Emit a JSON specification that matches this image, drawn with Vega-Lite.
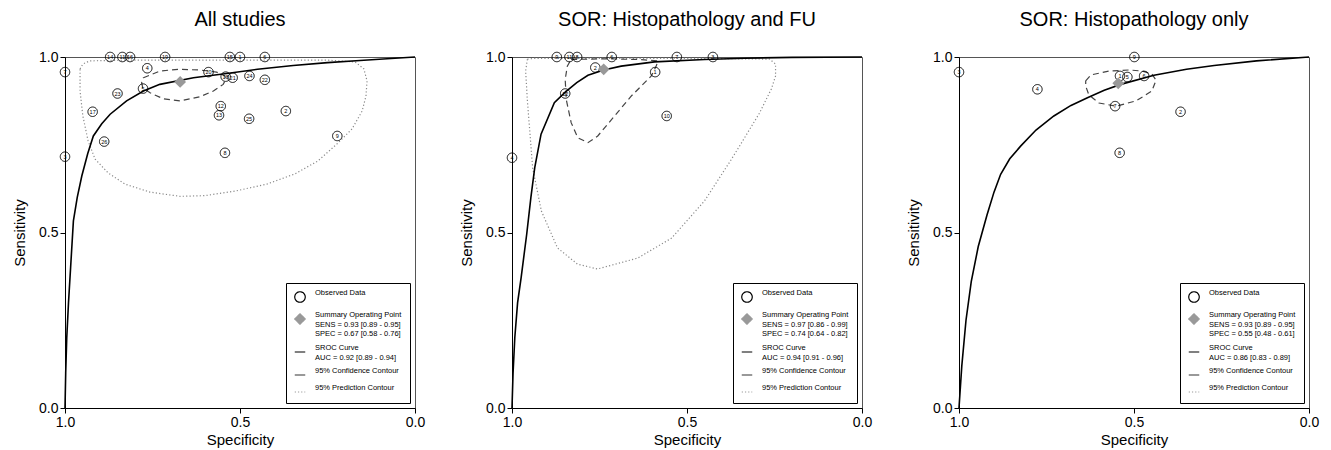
{
  "$schema": "https://vega.github.io/schema/vega-lite/v6.json",
  "padding": {"left": 12, "right": 5, "top": 9, "bottom": 0},
  "background": "white",
  "spacing": 33,
  "datasets": {
    "pts": [
      {"panel": 1, "id": "14", "spec": 0.871, "sens": 1.0},
      {"panel": 1, "id": "11", "spec": 0.836, "sens": 1.0},
      {"panel": 1, "id": "16", "spec": 0.814, "sens": 1.0},
      {"panel": 1, "id": "19", "spec": 0.714, "sens": 1.0},
      {"panel": 1, "id": "15", "spec": 0.529, "sens": 1.0},
      {"panel": 1, "id": "1", "spec": 0.500, "sens": 1.0},
      {"panel": 1, "id": "6", "spec": 0.429, "sens": 1.0},
      {"panel": 1, "id": "7", "spec": 1.0, "sens": 0.957},
      {"panel": 1, "id": "4", "spec": 0.765, "sens": 0.968},
      {"panel": 1, "id": "20", "spec": 0.590, "sens": 0.957},
      {"panel": 1, "id": "18", "spec": 0.541, "sens": 0.944},
      {"panel": 1, "id": "21", "spec": 0.521, "sens": 0.941},
      {"panel": 1, "id": "24", "spec": 0.473, "sens": 0.946},
      {"panel": 1, "id": "22", "spec": 0.429, "sens": 0.935},
      {"panel": 1, "id": "5", "spec": 0.777, "sens": 0.910},
      {"panel": 1, "id": "23", "spec": 0.850, "sens": 0.896},
      {"panel": 1, "id": "17", "spec": 0.921, "sens": 0.844},
      {"panel": 1, "id": "12", "spec": 0.555, "sens": 0.860},
      {"panel": 1, "id": "13", "spec": 0.560, "sens": 0.834},
      {"panel": 1, "id": "25", "spec": 0.474, "sens": 0.824},
      {"panel": 1, "id": "2", "spec": 0.369, "sens": 0.846},
      {"panel": 1, "id": "9", "spec": 0.222, "sens": 0.775},
      {"panel": 1, "id": "26", "spec": 0.888, "sens": 0.759},
      {"panel": 1, "id": "8", "spec": 0.543, "sens": 0.727},
      {"panel": 1, "id": "3", "spec": 1.0, "sens": 0.716},
      {"panel": 2, "id": "9", "spec": 0.872, "sens": 1.0},
      {"panel": 2, "id": "11", "spec": 0.836, "sens": 1.0},
      {"panel": 2, "id": "8", "spec": 0.814, "sens": 1.0},
      {"panel": 2, "id": "6", "spec": 0.715, "sens": 1.0},
      {"panel": 2, "id": "7", "spec": 0.529, "sens": 1.0},
      {"panel": 2, "id": "3", "spec": 0.426, "sens": 1.0},
      {"panel": 2, "id": "2", "spec": 0.762, "sens": 0.970},
      {"panel": 2, "id": "1", "spec": 0.591, "sens": 0.957},
      {"panel": 2, "id": "12", "spec": 0.848, "sens": 0.896},
      {"panel": 2, "id": "10", "spec": 0.558, "sens": 0.832},
      {"panel": 2, "id": "4", "spec": 1.0, "sens": 0.713},
      {"panel": 3, "id": "9", "spec": 0.499, "sens": 1.0},
      {"panel": 3, "id": "3", "spec": 1.0, "sens": 0.957},
      {"panel": 3, "id": "4", "spec": 0.776, "sens": 0.908},
      {"panel": 3, "id": "1", "spec": 0.540, "sens": 0.946},
      {"panel": 3, "id": "5", "spec": 0.519, "sens": 0.943},
      {"panel": 3, "id": "6", "spec": 0.471, "sens": 0.946},
      {"panel": 3, "id": "7", "spec": 0.554, "sens": 0.860},
      {"panel": 3, "id": "2", "spec": 0.367, "sens": 0.844},
      {"panel": 3, "id": "8", "spec": 0.541, "sens": 0.727}
    ],
    "summary": [
      {"panel": 1, "spec": 0.671, "sens": 0.929},
      {"panel": 2, "spec": 0.738, "sens": 0.965},
      {"panel": 3, "spec": 0.545, "sens": 0.925}
    ],
    "sroc": [
      {"panel": 1, "spec": 1.0, "sens": 0.0},
      {"panel": 1, "spec": 0.998, "sens": 0.1},
      {"panel": 1, "spec": 0.995, "sens": 0.2},
      {"panel": 1, "spec": 0.99, "sens": 0.3},
      {"panel": 1, "spec": 0.984, "sens": 0.4},
      {"panel": 1, "spec": 0.976, "sens": 0.533},
      {"panel": 1, "spec": 0.965, "sens": 0.6},
      {"panel": 1, "spec": 0.952, "sens": 0.661},
      {"panel": 1, "spec": 0.935, "sens": 0.725},
      {"panel": 1, "spec": 0.919, "sens": 0.775},
      {"panel": 1, "spec": 0.895, "sens": 0.81},
      {"panel": 1, "spec": 0.871, "sens": 0.837},
      {"panel": 1, "spec": 0.824, "sens": 0.875},
      {"panel": 1, "spec": 0.776, "sens": 0.903},
      {"panel": 1, "spec": 0.729, "sens": 0.922},
      {"panel": 1, "spec": 0.633, "sens": 0.941},
      {"panel": 1, "spec": 0.538, "sens": 0.953},
      {"panel": 1, "spec": 0.45, "sens": 0.965},
      {"panel": 1, "spec": 0.348, "sens": 0.976},
      {"panel": 1, "spec": 0.25, "sens": 0.984},
      {"panel": 1, "spec": 0.157, "sens": 0.99},
      {"panel": 1, "spec": 0.08, "sens": 0.995},
      {"panel": 1, "spec": 0.0, "sens": 1.0},
      {"panel": 2, "spec": 1.0, "sens": 0.0},
      {"panel": 2, "spec": 0.997, "sens": 0.1},
      {"panel": 2, "spec": 0.992, "sens": 0.2},
      {"panel": 2, "spec": 0.984, "sens": 0.3},
      {"panel": 2, "spec": 0.974, "sens": 0.371},
      {"panel": 2, "spec": 0.958, "sens": 0.495},
      {"panel": 2, "spec": 0.946, "sens": 0.6},
      {"panel": 2, "spec": 0.935, "sens": 0.685},
      {"panel": 2, "spec": 0.917, "sens": 0.78},
      {"panel": 2, "spec": 0.879, "sens": 0.87},
      {"panel": 2, "spec": 0.848, "sens": 0.9},
      {"panel": 2, "spec": 0.815, "sens": 0.927},
      {"panel": 2, "spec": 0.783, "sens": 0.948},
      {"panel": 2, "spec": 0.738, "sens": 0.963},
      {"panel": 2, "spec": 0.688, "sens": 0.974},
      {"panel": 2, "spec": 0.593, "sens": 0.986},
      {"panel": 2, "spec": 0.45, "sens": 0.993},
      {"panel": 2, "spec": 0.336, "sens": 0.9966},
      {"panel": 2, "spec": 0.2, "sens": 0.999},
      {"panel": 2, "spec": 0.0, "sens": 1.0},
      {"panel": 3, "spec": 1.0, "sens": 0.0},
      {"panel": 3, "spec": 0.992, "sens": 0.12},
      {"panel": 3, "spec": 0.98, "sens": 0.25},
      {"panel": 3, "spec": 0.965, "sens": 0.36},
      {"panel": 3, "spec": 0.945, "sens": 0.46},
      {"panel": 3, "spec": 0.92, "sens": 0.55},
      {"panel": 3, "spec": 0.9, "sens": 0.615},
      {"panel": 3, "spec": 0.881, "sens": 0.666},
      {"panel": 3, "spec": 0.855, "sens": 0.71},
      {"panel": 3, "spec": 0.824, "sens": 0.746},
      {"panel": 3, "spec": 0.78, "sens": 0.792},
      {"panel": 3, "spec": 0.729, "sens": 0.832},
      {"panel": 3, "spec": 0.68, "sens": 0.862},
      {"panel": 3, "spec": 0.633, "sens": 0.884},
      {"panel": 3, "spec": 0.585, "sens": 0.905},
      {"panel": 3, "spec": 0.538, "sens": 0.922},
      {"panel": 3, "spec": 0.443, "sens": 0.948},
      {"panel": 3, "spec": 0.35, "sens": 0.965},
      {"panel": 3, "spec": 0.271, "sens": 0.976},
      {"panel": 3, "spec": 0.15, "sens": 0.989},
      {"panel": 3, "spec": 0.0, "sens": 1.0}
    ],
    "conf": [
      {"panel": 1, "o": 1, "spec": 0.776, "sens": 0.941},
      {"panel": 1, "o": 2, "spec": 0.729, "sens": 0.960},
      {"panel": 1, "o": 3, "spec": 0.676, "sens": 0.965},
      {"panel": 1, "o": 4, "spec": 0.614, "sens": 0.963},
      {"panel": 1, "o": 5, "spec": 0.567, "sens": 0.957},
      {"panel": 1, "o": 6, "spec": 0.543, "sens": 0.946},
      {"panel": 1, "o": 7, "spec": 0.541, "sens": 0.936},
      {"panel": 1, "o": 8, "spec": 0.548, "sens": 0.922},
      {"panel": 1, "o": 9, "spec": 0.576, "sens": 0.903},
      {"panel": 1, "o": 10, "spec": 0.614, "sens": 0.887},
      {"panel": 1, "o": 11, "spec": 0.671, "sens": 0.875},
      {"panel": 1, "o": 12, "spec": 0.719, "sens": 0.881},
      {"panel": 1, "o": 13, "spec": 0.757, "sens": 0.898},
      {"panel": 1, "o": 14, "spec": 0.778, "sens": 0.913},
      {"panel": 1, "o": 15, "spec": 0.781, "sens": 0.927},
      {"panel": 1, "o": 16, "spec": 0.776, "sens": 0.941},
      {"panel": 2, "o": 1, "spec": 0.831, "sens": 0.993},
      {"panel": 2, "o": 2, "spec": 0.736, "sens": 0.995},
      {"panel": 2, "o": 3, "spec": 0.641, "sens": 0.993},
      {"panel": 2, "o": 4, "spec": 0.583, "sens": 0.989},
      {"panel": 2, "o": 5, "spec": 0.588, "sens": 0.974},
      {"panel": 2, "o": 6, "spec": 0.602, "sens": 0.946},
      {"panel": 2, "o": 7, "spec": 0.659, "sens": 0.889},
      {"panel": 2, "o": 8, "spec": 0.707, "sens": 0.832},
      {"panel": 2, "o": 9, "spec": 0.755, "sens": 0.775},
      {"panel": 2, "o": 10, "spec": 0.783, "sens": 0.756},
      {"panel": 2, "o": 11, "spec": 0.812, "sens": 0.770},
      {"panel": 2, "o": 12, "spec": 0.831, "sens": 0.813},
      {"panel": 2, "o": 13, "spec": 0.845, "sens": 0.879},
      {"panel": 2, "o": 14, "spec": 0.848, "sens": 0.936},
      {"panel": 2, "o": 15, "spec": 0.842, "sens": 0.974},
      {"panel": 2, "o": 16, "spec": 0.831, "sens": 0.993},
      {"panel": 3, "o": 1, "spec": 0.638, "sens": 0.932},
      {"panel": 3, "o": 2, "spec": 0.623, "sens": 0.949},
      {"panel": 3, "o": 3, "spec": 0.571, "sens": 0.960},
      {"panel": 3, "o": 4, "spec": 0.514, "sens": 0.963},
      {"panel": 3, "o": 5, "spec": 0.477, "sens": 0.960},
      {"panel": 3, "o": 6, "spec": 0.449, "sens": 0.952},
      {"panel": 3, "o": 7, "spec": 0.437, "sens": 0.934},
      {"panel": 3, "o": 8, "spec": 0.449, "sens": 0.903},
      {"panel": 3, "o": 9, "spec": 0.494, "sens": 0.875},
      {"panel": 3, "o": 10, "spec": 0.551, "sens": 0.860},
      {"panel": 3, "o": 11, "spec": 0.600, "sens": 0.869},
      {"panel": 3, "o": 12, "spec": 0.629, "sens": 0.892},
      {"panel": 3, "o": 13, "spec": 0.638, "sens": 0.917},
      {"panel": 3, "o": 14, "spec": 0.638, "sens": 0.932}
    ],
    "pred": [
      {"panel": 1, "o": 1, "spec": 0.957, "sens": 0.966},
      {"panel": 1, "o": 2, "spec": 0.949, "sens": 0.980},
      {"panel": 1, "o": 3, "spec": 0.929, "sens": 0.989},
      {"panel": 1, "o": 4, "spec": 0.823, "sens": 0.991},
      {"panel": 1, "o": 5, "spec": 0.537, "sens": 0.991},
      {"panel": 1, "o": 6, "spec": 0.251, "sens": 0.991},
      {"panel": 1, "o": 7, "spec": 0.171, "sens": 0.986},
      {"panel": 1, "o": 8, "spec": 0.146, "sens": 0.966},
      {"panel": 1, "o": 9, "spec": 0.137, "sens": 0.932},
      {"panel": 1, "o": 10, "spec": 0.140, "sens": 0.889},
      {"panel": 1, "o": 11, "spec": 0.151, "sens": 0.846},
      {"panel": 1, "o": 12, "spec": 0.180, "sens": 0.795},
      {"panel": 1, "o": 13, "spec": 0.220, "sens": 0.755},
      {"panel": 1, "o": 14, "spec": 0.277, "sens": 0.704},
      {"panel": 1, "o": 15, "spec": 0.343, "sens": 0.667},
      {"panel": 1, "o": 16, "spec": 0.423, "sens": 0.638},
      {"panel": 1, "o": 17, "spec": 0.514, "sens": 0.618},
      {"panel": 1, "o": 18, "spec": 0.600, "sens": 0.605},
      {"panel": 1, "o": 19, "spec": 0.671, "sens": 0.603},
      {"panel": 1, "o": 20, "spec": 0.757, "sens": 0.615},
      {"panel": 1, "o": 21, "spec": 0.829, "sens": 0.638},
      {"panel": 1, "o": 22, "spec": 0.877, "sens": 0.670},
      {"panel": 1, "o": 23, "spec": 0.914, "sens": 0.709},
      {"panel": 1, "o": 24, "spec": 0.934, "sens": 0.761},
      {"panel": 1, "o": 25, "spec": 0.949, "sens": 0.832},
      {"panel": 1, "o": 26, "spec": 0.957, "sens": 0.903},
      {"panel": 1, "o": 27, "spec": 0.957, "sens": 0.966},
      {"panel": 2, "o": 1, "spec": 0.956, "sens": 0.994},
      {"panel": 2, "o": 2, "spec": 0.936, "sens": 0.996},
      {"panel": 2, "o": 3, "spec": 0.750, "sens": 0.996},
      {"panel": 2, "o": 4, "spec": 0.464, "sens": 0.996},
      {"panel": 2, "o": 5, "spec": 0.264, "sens": 0.994},
      {"panel": 2, "o": 6, "spec": 0.247, "sens": 0.980},
      {"panel": 2, "o": 7, "spec": 0.247, "sens": 0.946},
      {"panel": 2, "o": 8, "spec": 0.259, "sens": 0.909},
      {"panel": 2, "o": 9, "spec": 0.293, "sens": 0.840},
      {"panel": 2, "o": 10, "spec": 0.350, "sens": 0.746},
      {"panel": 2, "o": 11, "spec": 0.376, "sens": 0.704},
      {"panel": 2, "o": 12, "spec": 0.450, "sens": 0.590},
      {"panel": 2, "o": 13, "spec": 0.544, "sens": 0.484},
      {"panel": 2, "o": 14, "spec": 0.641, "sens": 0.427},
      {"panel": 2, "o": 15, "spec": 0.756, "sens": 0.396},
      {"panel": 2, "o": 16, "spec": 0.813, "sens": 0.410},
      {"panel": 2, "o": 17, "spec": 0.870, "sens": 0.456},
      {"panel": 2, "o": 18, "spec": 0.916, "sens": 0.561},
      {"panel": 2, "o": 19, "spec": 0.941, "sens": 0.684},
      {"panel": 2, "o": 20, "spec": 0.956, "sens": 0.875},
      {"panel": 2, "o": 21, "spec": 0.961, "sens": 0.960},
      {"panel": 2, "o": 22, "spec": 0.956, "sens": 0.994}
    ]
  },
  "hconcat": [
    {
      "width": 350, "height": 351,
      "title": {"text": "All studies"},
      "layer": [
        {"data": {"name": "pred"}, "transform": [{"filter": "datum.panel == 1"}],
         "mark": {"type": "line", "stroke": "#8a8a8a", "strokeWidth": 1.2, "strokeDash": [1.2, 2.2]},
         "encoding": {"x": {"field": "spec", "type": "quantitative", "title": "Specificity", "scale": {"domain": [0, 1], "reverse": true, "nice": false, "zero": false}, "axis": {"values": [0, 0.5, 1], "format": ".1f"}},
                      "y": {"field": "sens", "type": "quantitative", "title": "Sensitivity", "scale": {"domain": [0, 1], "nice": false}, "axis": {"values": [0, 0.5, 1], "format": ".1f"}},
                      "order": {"field": "o"}}},
        {"data": {"name": "conf"}, "transform": [{"filter": "datum.panel == 1"}],
         "mark": {"type": "line", "stroke": "#444444", "strokeWidth": 1.2, "strokeDash": [6, 4]},
         "encoding": {"x": {"field": "spec", "type": "quantitative"}, "y": {"field": "sens", "type": "quantitative"}, "order": {"field": "o"}}},
        {"data": {"name": "sroc"}, "transform": [{"filter": "datum.panel == 1"}],
         "mark": {"type": "line", "stroke": "black", "strokeWidth": 1.6},
         "encoding": {"x": {"field": "spec", "type": "quantitative"}, "y": {"field": "sens", "type": "quantitative"}}},
        {"data": {"name": "pts"}, "transform": [{"filter": "datum.panel == 1"}],
         "mark": {"type": "point", "filled": false, "strokeWidth": 1, "size": 90, "opacity": 1},
         "encoding": {"x": {"field": "spec", "type": "quantitative"}, "y": {"field": "sens", "type": "quantitative"},
                      "shape": {"datum": "Observed Data", "type": "nominal",
                                "scale": {"domain": ["Observed Data", "Summary Operating Point", "SROC Curve", "95% Confidence Contour", "95% Prediction Contour"], "range": ["circle", "diamond", "stroke", "stroke", "stroke"]},
                                "legend": {"title": null, "orient": "bottom-right", "offset": 5, "strokeColor": "black", "fillColor": "white", "padding": 8, "labelFontSize": 7.5, "labelColor": "black", "labelBaseline": "bottom", "symbolSize": 110, "symbolOpacity": 1, "rowPadding": 6, "labelOffset": 9, "symbolStrokeWidth": 1.2,
                                           "labelExpr": "datum.label == 'Summary Operating Point' ? ['Summary Operating Point', 'SENS = 0.93 [0.89 - 0.95]', 'SPEC = 0.67 [0.58 - 0.76]'] : datum.label == 'SROC Curve' ? ['SROC Curve', 'AUC = 0.92 [0.89 - 0.94]'] : datum.label"}},
                      "fill": {"datum": "Observed Data", "type": "nominal",
                               "scale": {"domain": ["Observed Data", "Summary Operating Point", "SROC Curve", "95% Confidence Contour", "95% Prediction Contour"], "range": ["transparent", "#999999", "transparent", "transparent", "transparent"]}},
                      "stroke": {"datum": "Observed Data", "type": "nominal",
                                 "scale": {"domain": ["Observed Data", "Summary Operating Point", "SROC Curve", "95% Confidence Contour", "95% Prediction Contour"], "range": ["black", "#999999", "black", "#333333", "#999999"]}},
                      "strokeDash": {"datum": "Observed Data", "type": "nominal",
                                     "scale": {"domain": ["Observed Data", "Summary Operating Point", "SROC Curve", "95% Confidence Contour", "95% Prediction Contour"], "range": [[1, 0], [1, 0], [1, 0], [1, 0], [1.2, 2]]}}}},
        {"data": {"name": "pts"}, "transform": [{"filter": "datum.panel == 1"}],
         "mark": {"type": "text", "fontSize": 5.5, "color": "black", "baseline": "middle", "align": "center"},
         "encoding": {"x": {"field": "spec", "type": "quantitative"}, "y": {"field": "sens", "type": "quantitative"}, "text": {"field": "id"}}},
        {"data": {"name": "summary"}, "transform": [{"filter": "datum.panel == 1"}],
         "mark": {"type": "point", "filled": true, "size": 80, "opacity": 1},
         "encoding": {"x": {"field": "spec", "type": "quantitative"}, "y": {"field": "sens", "type": "quantitative"},
                      "shape": {"datum": "Summary Operating Point", "type": "nominal"},
                      "fill": {"datum": "Summary Operating Point", "type": "nominal"},
                      "stroke": {"datum": "Summary Operating Point", "type": "nominal"}}}
      ]
    },
    {
      "width": 350, "height": 351,
      "title": {"text": "SOR: Histopathology and FU"},
      "layer": [
        {"data": {"name": "pred"}, "transform": [{"filter": "datum.panel == 2"}],
         "mark": {"type": "line", "stroke": "#8a8a8a", "strokeWidth": 1.2, "strokeDash": [1.2, 2.2]},
         "encoding": {"x": {"field": "spec", "type": "quantitative", "title": "Specificity", "scale": {"domain": [0, 1], "reverse": true, "nice": false, "zero": false}, "axis": {"values": [0, 0.5, 1], "format": ".1f"}},
                      "y": {"field": "sens", "type": "quantitative", "title": "Sensitivity", "scale": {"domain": [0, 1], "nice": false}, "axis": {"values": [0, 0.5, 1], "format": ".1f"}},
                      "order": {"field": "o"}}},
        {"data": {"name": "conf"}, "transform": [{"filter": "datum.panel == 2"}],
         "mark": {"type": "line", "stroke": "#444444", "strokeWidth": 1.2, "strokeDash": [6, 4]},
         "encoding": {"x": {"field": "spec", "type": "quantitative"}, "y": {"field": "sens", "type": "quantitative"}, "order": {"field": "o"}}},
        {"data": {"name": "sroc"}, "transform": [{"filter": "datum.panel == 2"}],
         "mark": {"type": "line", "stroke": "black", "strokeWidth": 1.6},
         "encoding": {"x": {"field": "spec", "type": "quantitative"}, "y": {"field": "sens", "type": "quantitative"}}},
        {"data": {"name": "pts"}, "transform": [{"filter": "datum.panel == 2"}],
         "mark": {"type": "point", "filled": false, "strokeWidth": 1, "size": 90, "opacity": 1},
         "encoding": {"x": {"field": "spec", "type": "quantitative"}, "y": {"field": "sens", "type": "quantitative"},
                      "shape": {"datum": "Observed Data", "type": "nominal",
                                "scale": {"domain": ["Observed Data", "Summary Operating Point", "SROC Curve", "95% Confidence Contour", "95% Prediction Contour"], "range": ["circle", "diamond", "stroke", "stroke", "stroke"]},
                                "legend": {"title": null, "orient": "bottom-right", "offset": 5, "strokeColor": "black", "fillColor": "white", "padding": 8, "labelFontSize": 7.5, "labelColor": "black", "labelBaseline": "bottom", "symbolSize": 110, "symbolOpacity": 1, "rowPadding": 6, "labelOffset": 9, "symbolStrokeWidth": 1.2,
                                           "labelExpr": "datum.label == 'Summary Operating Point' ? ['Summary Operating Point', 'SENS = 0.97 [0.86 - 0.99]', 'SPEC = 0.74 [0.64 - 0.82]'] : datum.label == 'SROC Curve' ? ['SROC Curve', 'AUC = 0.94 [0.91 - 0.96]'] : datum.label"}},
                      "fill": {"datum": "Observed Data", "type": "nominal",
                               "scale": {"domain": ["Observed Data", "Summary Operating Point", "SROC Curve", "95% Confidence Contour", "95% Prediction Contour"], "range": ["transparent", "#999999", "transparent", "transparent", "transparent"]}},
                      "stroke": {"datum": "Observed Data", "type": "nominal",
                                 "scale": {"domain": ["Observed Data", "Summary Operating Point", "SROC Curve", "95% Confidence Contour", "95% Prediction Contour"], "range": ["black", "#999999", "black", "#333333", "#999999"]}},
                      "strokeDash": {"datum": "Observed Data", "type": "nominal",
                                     "scale": {"domain": ["Observed Data", "Summary Operating Point", "SROC Curve", "95% Confidence Contour", "95% Prediction Contour"], "range": [[1, 0], [1, 0], [1, 0], [1, 0], [1.2, 2]]}}}},
        {"data": {"name": "pts"}, "transform": [{"filter": "datum.panel == 2"}],
         "mark": {"type": "text", "fontSize": 5.5, "color": "black", "baseline": "middle", "align": "center"},
         "encoding": {"x": {"field": "spec", "type": "quantitative"}, "y": {"field": "sens", "type": "quantitative"}, "text": {"field": "id"}}},
        {"data": {"name": "summary"}, "transform": [{"filter": "datum.panel == 2"}],
         "mark": {"type": "point", "filled": true, "size": 80, "opacity": 1},
         "encoding": {"x": {"field": "spec", "type": "quantitative"}, "y": {"field": "sens", "type": "quantitative"},
                      "shape": {"datum": "Summary Operating Point", "type": "nominal"},
                      "fill": {"datum": "Summary Operating Point", "type": "nominal"},
                      "stroke": {"datum": "Summary Operating Point", "type": "nominal"}}}
      ]
    },
    {
      "width": 350, "height": 351,
      "title": {"text": "SOR: Histopathology only"},
      "layer": [
        {"data": {"name": "conf"}, "transform": [{"filter": "datum.panel == 3"}],
         "mark": {"type": "line", "stroke": "#444444", "strokeWidth": 1.2, "strokeDash": [6, 4]},
         "encoding": {"x": {"field": "spec", "type": "quantitative", "title": "Specificity", "scale": {"domain": [0, 1], "reverse": true, "nice": false, "zero": false}, "axis": {"values": [0, 0.5, 1], "format": ".1f"}},
                      "y": {"field": "sens", "type": "quantitative", "title": "Sensitivity", "scale": {"domain": [0, 1], "nice": false}, "axis": {"values": [0, 0.5, 1], "format": ".1f"}},
                      "order": {"field": "o"}}},
        {"data": {"name": "sroc"}, "transform": [{"filter": "datum.panel == 3"}],
         "mark": {"type": "line", "stroke": "black", "strokeWidth": 1.6},
         "encoding": {"x": {"field": "spec", "type": "quantitative"}, "y": {"field": "sens", "type": "quantitative"}}},
        {"data": {"name": "pts"}, "transform": [{"filter": "datum.panel == 3"}],
         "mark": {"type": "point", "filled": false, "strokeWidth": 1, "size": 90, "opacity": 1},
         "encoding": {"x": {"field": "spec", "type": "quantitative"}, "y": {"field": "sens", "type": "quantitative"},
                      "shape": {"datum": "Observed Data", "type": "nominal",
                                "scale": {"domain": ["Observed Data", "Summary Operating Point", "SROC Curve", "95% Confidence Contour", "95% Prediction Contour"], "range": ["circle", "diamond", "stroke", "stroke", "stroke"]},
                                "legend": {"title": null, "orient": "bottom-right", "offset": 5, "strokeColor": "black", "fillColor": "white", "padding": 8, "labelFontSize": 7.5, "labelColor": "black", "labelBaseline": "bottom", "symbolSize": 110, "symbolOpacity": 1, "rowPadding": 6, "labelOffset": 9, "symbolStrokeWidth": 1.2,
                                           "labelExpr": "datum.label == 'Summary Operating Point' ? ['Summary Operating Point', 'SENS = 0.93 [0.89 - 0.95]', 'SPEC = 0.55 [0.48 - 0.61]'] : datum.label == 'SROC Curve' ? ['SROC Curve', 'AUC = 0.86 [0.83 - 0.89]'] : datum.label"}},
                      "fill": {"datum": "Observed Data", "type": "nominal",
                               "scale": {"domain": ["Observed Data", "Summary Operating Point", "SROC Curve", "95% Confidence Contour", "95% Prediction Contour"], "range": ["transparent", "#999999", "transparent", "transparent", "transparent"]}},
                      "stroke": {"datum": "Observed Data", "type": "nominal",
                                 "scale": {"domain": ["Observed Data", "Summary Operating Point", "SROC Curve", "95% Confidence Contour", "95% Prediction Contour"], "range": ["black", "#999999", "black", "#333333", "#999999"]}},
                      "strokeDash": {"datum": "Observed Data", "type": "nominal",
                                     "scale": {"domain": ["Observed Data", "Summary Operating Point", "SROC Curve", "95% Confidence Contour", "95% Prediction Contour"], "range": [[1, 0], [1, 0], [1, 0], [1, 0], [1.2, 2]]}}}},
        {"data": {"name": "pts"}, "transform": [{"filter": "datum.panel == 3"}],
         "mark": {"type": "text", "fontSize": 5.5, "color": "black", "baseline": "middle", "align": "center"},
         "encoding": {"x": {"field": "spec", "type": "quantitative"}, "y": {"field": "sens", "type": "quantitative"}, "text": {"field": "id"}}},
        {"data": {"name": "summary"}, "transform": [{"filter": "datum.panel == 3"}],
         "mark": {"type": "point", "filled": true, "size": 80, "opacity": 1},
         "encoding": {"x": {"field": "spec", "type": "quantitative"}, "y": {"field": "sens", "type": "quantitative"},
                      "shape": {"datum": "Summary Operating Point", "type": "nominal"},
                      "fill": {"datum": "Summary Operating Point", "type": "nominal"},
                      "stroke": {"datum": "Summary Operating Point", "type": "nominal"}}}
      ]
    }
  ],
  "resolve": {"scale": {"shape": "independent", "fill": "independent", "stroke": "independent", "strokeDash": "independent"}, "legend": {"shape": "independent", "fill": "independent", "stroke": "independent", "strokeDash": "independent"}},
  "config": {
    "font": "Liberation Sans",
    "view": {"stroke": "#555555"},
    "axis": {"grid": false, "domainColor": "black", "tickColor": "black", "labelColor": "black", "titleColor": "black", "labelFontSize": 14, "titleFontSize": 15, "titleFontWeight": "normal", "tickSize": 5, "labelPadding": 2, "labelFlush": false, "labelOverlap": false},
    "axisY": {"titlePadding": 11},
    "axisX": {"titlePadding": 3},
    "title": {"fontSize": 20, "fontWeight": "normal", "color": "black", "anchor": "middle", "offset": 20},
    "legend": {"labelColor": "black", "labelFont": "Liberation Sans"}
  }
}
